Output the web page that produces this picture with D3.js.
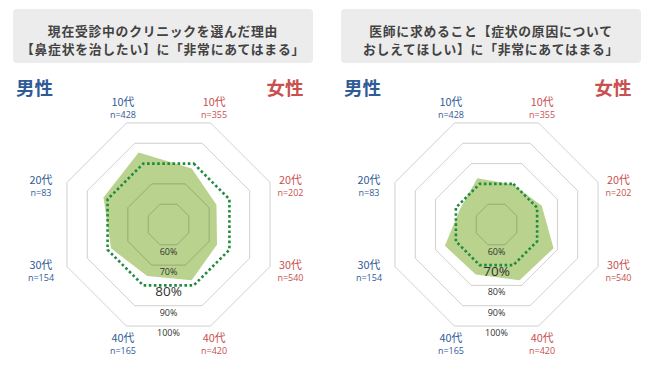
<!DOCTYPE html>
<html><head><meta charset="utf-8">
<script src="https://cdn.jsdelivr.net/npm/d3@7"></script>
<style>
html,body{margin:0;padding:0;background:#fff;}
svg{display:block;}
</style></head>
<body>
<svg id="c" width="660" height="378"></svg>
<script>
// ---- data ----
const ages = ["10代", "20代", "30代", "40代"];
const maleN = [428, 83, 154, 165];
const femaleN = [355, 202, 540, 420];
const ringLevels = [60, 70, 80, 90, 100];

const titles1 = ["現在受診中のクリニックを選んだ理由", "【鼻症状を治したい】に「非常にあてはまる」"];
const male1 = [85.5, 82.0, 78.3, 75.4];
const female1 = [77.6, 73.6, 73.9, 77.5];
const ref1 = 80;

const titles2 = ["医師に求めること【症状の原因について", "おしえてほしい】に「非常にあてはまる」"];
const male2 = [72.8, 68.0, 75.4, 74.6];
const female2 = [69.7, 72.3, 78.1, 77.5];
const ref2 = 70;

const genderLabels = ["男性", "女性"];

// ---- drawing ----
const svg = d3.select("#c");
const BLUE = "#2f5b97", RED = "#c8504e";
const FONT = "'Noto Sans CJK JP','Noto Sans',sans-serif";

function chart(offsetX, titles, male, female, ref) {
  const cx = offsetX + 168.5, cy = 224.5;
  const g = svg.append("g");
  // title box
  g.append("rect").attr("x", offsetX + 13).attr("y", 9).attr("width", 300).attr("height", 54)
    .attr("rx", 4).attr("fill", "#ececec");
  titles.forEach((t, i) => {
    g.append("text").attr("x", offsetX + 163).attr("y", 35.5 + i * 18.6)
      .attr("text-anchor", "middle").attr("font-family", FONT).attr("font-weight", "bold")
      .attr("font-size", 12.8).attr("letter-spacing", 0.75).attr("fill", "#424242").text(t);
  });
  // gender labels
  g.append("text").attr("x", offsetX + 34.5).attr("y", 95).attr("text-anchor", "middle")
    .attr("font-family", FONT).attr("font-weight", "bold").attr("font-size", 18.5)
    .attr("fill", BLUE).text(genderLabels[0]);
  g.append("text").attr("x", offsetX + 285).attr("y", 95).attr("text-anchor", "middle")
    .attr("font-family", FONT).attr("font-weight", "bold").attr("font-size", 18.5)
    .attr("fill", RED).text(genderLabels[1]);

  // axes order clockwise from top-right: F10,F20,F30,F40,M40,M30,M20,M10
  const axes = [];
  ages.forEach((a, i) => axes.push({age: a, n: femaleN[i], v: female[i], sex: 1}));
  for (let i = ages.length - 1; i >= 0; i--) axes.push({age: ages[i], n: maleN[i], v: male[i], sex: 0});
  const step = 2 * Math.PI / axes.length;
  const ang = i => step / 2 + i * step; // from vertical, clockwise
  const r = d3.scaleLinear().domain([50, 100]).range([0, 109.9]);
  const pt = (i, v) => [cx + r(v) * Math.sin(ang(i)), cy - r(v) * Math.cos(ang(i))];
  const line = d3.line().curve(d3.curveLinearClosed);

  // data area
  g.append("path").attr("d", line(axes.map((d, i) => pt(i, d.v))))
    .attr("fill", "#b9d28d");

  // grid rings
  ringLevels.forEach(l => {
    if (l === ref) return;
    g.append("path").attr("d", line(axes.map((d, i) => pt(i, l))))
      .attr("fill", "none").attr("stroke", "rgba(0,0,0,0.19)").attr("stroke-width", 1);
  });
  // reference ring dotted
  g.append("path").attr("d", line(axes.map((d, i) => pt(i, ref))))
    .attr("fill", "none").attr("stroke", "#1f8c3f").attr("stroke-width", 2.6)
    .attr("stroke-dasharray", "2.6,2.5");

  // ring percent labels
  const ap = l => r(l) * Math.cos(step / 2);
  ringLevels.forEach(l => {
    const big = l === ref;
    g.append("text").attr("x", cx).attr("y", cy + ap(l) + (big ? 11 : 10))
      .attr("text-anchor", "middle").attr("font-family", "'Open Sans',sans-serif")
      .attr("font-size", big ? 13.5 : 9).attr("fill", "#333").text(l + "%");
  });

  // axis labels (placed on an ellipse around the chart)
  axes.forEach((d, i) => {
    const s = Math.sin(ang(i)), c = Math.cos(ang(i));
    const side = Math.abs(s) > 0.8;
    const Rx = side ? (d.sex ? 132 : 138) : 119;
    const Ry = side ? 111.6 : 127.5;
    const off = side ? 4.25 : 1.75;
    const x = cx + Rx * s, y = cy - Ry * c + off;
    const col = d.sex ? RED : BLUE;
    g.append("text").attr("x", x).attr("y", y - 2.5).attr("text-anchor", "middle")
      .attr("font-family", FONT).attr("font-size", 10.8).attr("fill", col).text(d.age);
    g.append("text").attr("x", x).attr("y", y + 9.5).attr("text-anchor", "middle")
      .attr("font-family", "'Open Sans',sans-serif").attr("font-size", 9).attr("fill", col).text("n=" + d.n);
  });
}

chart(0, titles1, male1, female1, ref1);
chart(328, titles2, male2, female2, ref2);
</script>
</body></html>
